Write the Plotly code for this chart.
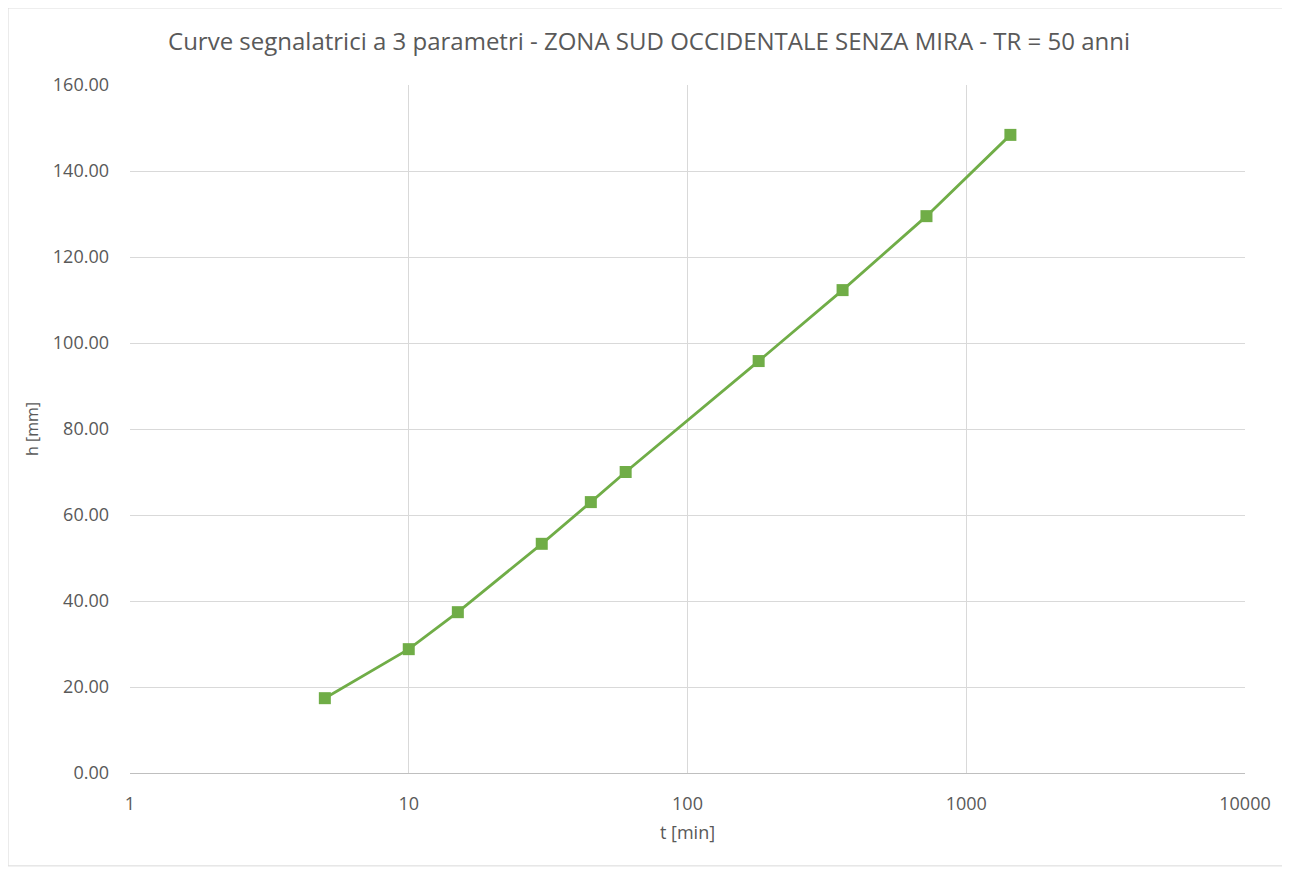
import plotly.graph_objects as go

# durations [min] and rainfall heights [mm]
t_min = [5, 10, 15, 30, 45, 60, 180, 360, 720, 1440]
h_mm = [17.4, 28.8, 37.4, 53.3, 63.0, 70.0, 95.8, 112.3, 129.5, 148.4]
x_ticks = [1, 10, 100, 1000, 10000]

title = "Curve segnalatrici a 3 parametri - ZONA SUD OCCIDENTALE SENZA MIRA - TR = 50 anni"
font_family = "Open Sans, sans-serif"
grey_text = "#595959"
grid = "#d9d9d9"
green = "#70ad47"

fig = go.Figure()
fig.add_trace(go.Scatter(x=t_min, y=h_mm, mode="lines+markers",
                         line=dict(color=green, width=2.8),
                         marker=dict(symbol="square", size=12, color=green),
                         showlegend=False))

# page body adds an 8px offset, so the figure is a bit smaller than the window
fig.update_layout(
    width=1282, height=861,
    margin=dict(l=122, r=45, t=77, b=96),
    paper_bgcolor="white", plot_bgcolor="white",
    font=dict(family=font_family, color=grey_text, size=18),
    title=dict(text=title, x=0.5, xanchor="center", y=0.9605, yanchor="middle",
               font=dict(size=24, color=grey_text)),
    shapes=[dict(type="rect", xref="paper", yref="paper",
                 x0=-0.1094, x1=1.0377, y0=-0.135, y1=1.112,
                 line=dict(color="#d9d9d9", width=1))],
)
fig.update_xaxes(type="log", range=[0, 4], tickvals=x_ticks,
                 ticktext=[str(v) for v in x_ticks],
                 showgrid=True, gridcolor=grid, gridwidth=1,
                 showline=True, linecolor="#bfbfbf", linewidth=1,
                 ticks="", ticklabelstandoff=14,
                 title=dict(text="t [min]", font=dict(size=18, color=grey_text), standoff=12))
fig.update_yaxes(range=[0, 160], dtick=20, tickformat=".2f",
                 showgrid=True, gridcolor=grid, gridwidth=1,
                 zeroline=False, showline=False, ticks="", ticklabelstandoff=20,
                 title=dict(text="h [mm]", font=dict(size=16, color=grey_text), standoff=10))

fig.write_html("out.html")
